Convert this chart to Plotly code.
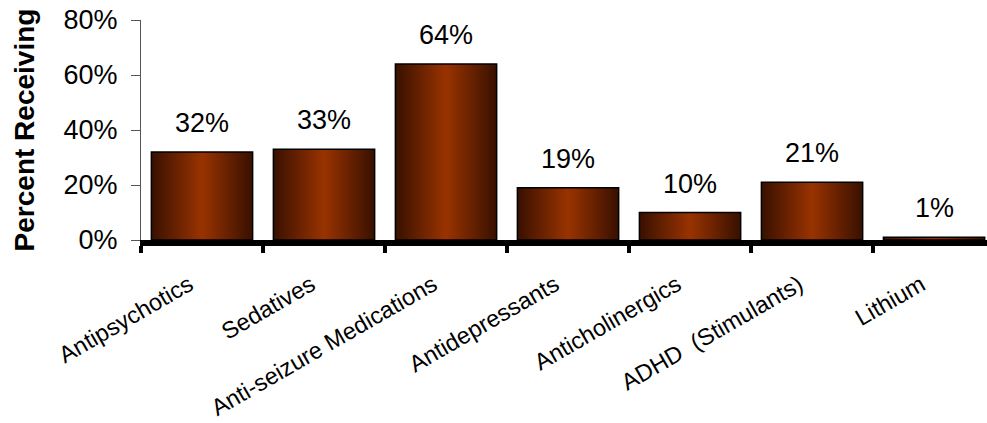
import plotly.graph_objects as go

# Share of patients receiving each medication class
categories = ["Antipsychotics", "Sedatives", "Anti-seizure Medications",
              "Antidepressants", "Anticholinergics", "ADHD\u00a0\u00a0(Stimulants)", "Lithium"]
percent = [32, 33, 64, 19, 10, 21, 1]
y_ticks = [0, 20, 40, 60, 80]

FONT = "Liberation Sans, Arial, sans-serif"
BAR_HALF = 0.415  # half bar width in category units

fig = go.Figure()

# Each bar is a filled rectangle so it can carry a horizontal shading gradient
for i, v in enumerate(percent):
    x0, x1 = i - BAR_HALF, i + BAR_HALF
    fig.add_trace(go.Scatter(
        x=[x0, x0, x1, x1, x0],
        y=[0, v, v, 0, 0],
        mode="lines",
        fill="toself",
        line=dict(color="#000000", width=1.5),
        fillgradient=dict(
            type="horizontal",
            colorscale=[[0, "#381000"], [0.5, "#993300"], [1, "#381000"]],
        ),
        hoverinfo="skip",
        showlegend=False,
    ))

# Value labels above the bars
for i, v in enumerate(percent):
    fig.add_annotation(
        x=i, y=v, text=f"{v}%", showarrow=False,
        yanchor="bottom", yshift=12,
        font=dict(family=FONT, size=27, color="#000000"),
    )

fig.update_layout(
    width=987, height=423,
    margin=dict(l=141, r=0, t=20, b=183),
    paper_bgcolor="white", plot_bgcolor="white",
    font=dict(family=FONT, color="#000000"),
    showlegend=False,
)

fig.update_xaxes(
    range=[-0.5, 6.434],
    automargin=False,
    tickmode="array",
    tickvals=list(range(len(categories))),
    ticktext=categories,
    tickangle=-30,
    ticks="",
    ticklabelstandoff=16,
    ticklabelshift=-13,
    tickfont=dict(family=FONT, size=23.5, color="#000000"),
    showgrid=False, zeroline=False,
    showline=True, linecolor="#000000", linewidth=6,
    minor=dict(
        tickmode="array",
        tickvals=[i - 0.5 for i in range(len(categories) + 1)],
        ticks="outside", ticklen=7, tickwidth=4, tickcolor="#000000",
        showgrid=False,
    ),
)

fig.update_yaxes(
    range=[0, 80],
    automargin=False,
    tickmode="array",
    tickvals=y_ticks,
    ticktext=[f"{t}%" for t in y_ticks],
    ticks="outside", ticklen=9, tickwidth=1, tickcolor="#555555",
    ticklabelstandoff=8,
    tickfont=dict(family=FONT, size=27, color="#000000"),
    showgrid=False, zeroline=False,
    showline=True, linecolor="#555555", linewidth=1,
    title=dict(text="<b>Percent Receiving</b>", standoff=20,
               font=dict(family=FONT, size=28, color="#000000")),
)

fig.write_html("out.html")
